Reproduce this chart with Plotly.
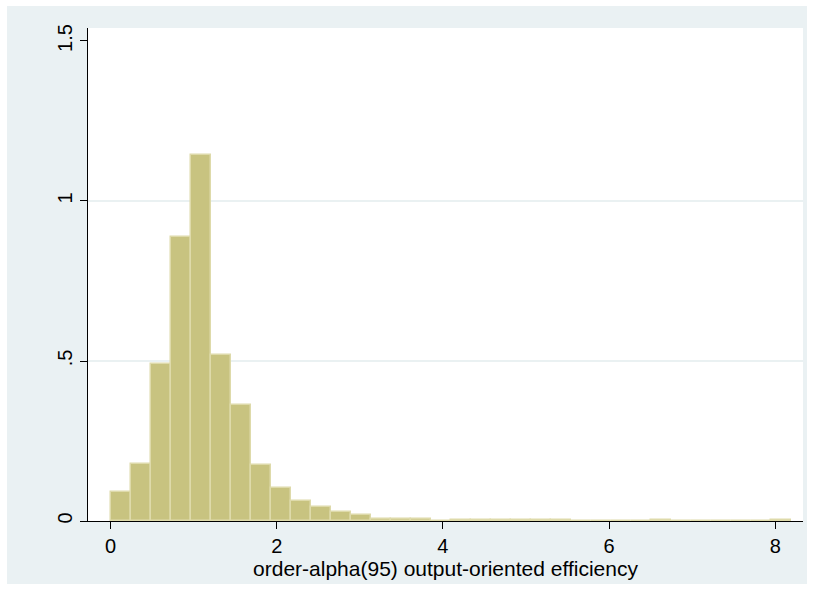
import plotly.graph_objects as go

# Histogram of order-alpha(95) output-oriented efficiency (density scale)
bin_start = 0.0
bin_width = 0.2409
density = [
    0.092, 0.178, 0.490, 0.887, 1.143, 0.520, 0.362, 0.176, 0.103, 0.063,
    0.045, 0.029, 0.020, 0.0066, 0.0066, 0.005, 0.0, 0.003, 0.003, 0.003,
    0.003, 0.003, 0.003, 0.0, 0.0, 0.0, 0.0, 0.003, 0.0, 0.0,
    0.0, 0.0, 0.0, 0.003,
]
x_ticks = [0, 2, 4, 6, 8]
y_ticks = [0, 0.5, 1, 1.5]
y_tick_text = ["0", ".5", "1", "1.5"]
grid_y = [0.5, 1.0]
x_title = "order-alpha(95) output-oriented efficiency"

centers = [bin_start + bin_width * (i + 0.5) for i in range(len(density))]

FONT = "Liberation Sans, Arial, sans-serif"
OUTER = "#EAF1F3"
GRID = "#E3ECEE"

fig = go.Figure()
fig.add_trace(go.Bar(
    x=centers,
    y=density,
    width=[bin_width] * len(density),
    marker=dict(color="#C8C380", line=dict(color="#DEDAAA", width=1.5)),
    hoverinfo="x+y",
))

shapes = [
    # light bluish-gray graph region
    dict(type="rect", xref="paper", yref="paper", x0=-0.1133, x1=1.0056,
         y0=-0.128, y1=1.0446, fillcolor=OUTER, line=dict(width=0), layer="below"),
    # white plot region
    dict(type="rect", xref="paper", yref="paper", x0=0, x1=1, y0=0, y1=1,
         fillcolor="white", line=dict(width=0), layer="below"),
]
for gy in grid_y:
    shapes.append(dict(type="line", xref="paper", yref="y", x0=0, x1=1, y0=gy, y1=gy,
                       line=dict(color=GRID, width=1.5), layer="below"))

fig.update_layout(
    width=814, height=599, autosize=False,
    margin=dict(l=88, r=11, t=28, b=78),
    paper_bgcolor="white",
    plot_bgcolor="rgba(0,0,0,0)",
    showlegend=False,
    bargap=0,
    shapes=shapes,
    font=dict(family=FONT, size=20, color="black"),
)
fig.update_xaxes(
    range=[-0.2708, 8.333],
    tickvals=x_ticks,
    ticks="outside", ticklen=7, tickwidth=1, tickcolor="black",
    showline=True, linecolor="black", linewidth=1,
    showgrid=False, zeroline=False,
    tickfont=dict(family=FONT, size=20, color="black"),
    title=dict(text=x_title, font=dict(family=FONT, size=21, color="black"), standoff=0),
)
fig.update_yaxes(
    range=[0, 1.5406],
    tickvals=y_ticks, ticktext=y_tick_text, tickangle=-90,
    ticks="outside", ticklen=7, tickwidth=1, tickcolor="black",
    showline=True, linecolor="black", linewidth=1,
    showgrid=False, zeroline=False,
    tickfont=dict(family=FONT, size=20, color="black"),
)

fig.write_html("out.html")
